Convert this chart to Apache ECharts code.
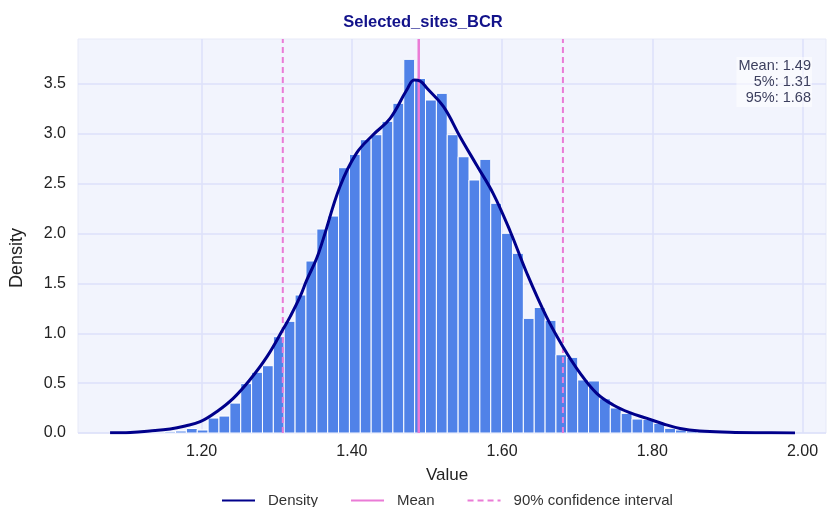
<!DOCTYPE html>
<html>
<head>
<meta charset="utf-8">
<script src="https://cdn.jsdelivr.net/npm/echarts@6/dist/echarts.min.js"></script>
<style>
html,body{margin:0;padding:0;background:#fff;}
#chart{width:827px;height:507px;}
</style>
</head>
<body>
<div id="chart"></div>
<script>
// ---- data ----
const chartTitle = 'Selected_sites_BCR';
const binStart = 1.0783;
const binWidth = 0.014474;
const histDensity = [
  0.003, 0.002, 0.004, 0.006, 0.008, 0.012, 0.02, 0.045, 0.03, 0.15,
  0.17, 0.30, 0.495, 0.609, 0.675, 0.966, 1.12, 1.384, 1.725, 2.046,
  2.176, 2.661, 2.795, 2.942, 2.992, 3.126, 3.307, 3.748, 3.557, 3.340,
  3.407, 2.992, 2.771, 2.538, 2.745, 2.304, 2.003, 1.802, 1.150, 1.26,
  1.13, 0.785, 0.759, 0.532, 0.522, 0.343, 0.251, 0.197, 0.14, 0.137,
  0.097, 0.047, 0.03, 0.02, 0.012, 0.008, 0.006, 0.004, 0.003, 0.002,
  0.001, 0.001, 0.001
];
const kdeX = [1.078, 1.105, 1.131, 1.158, 1.178, 1.198, 1.220, 1.242, 1.264, 1.287,
  1.309, 1.318, 1.331, 1.340, 1.353, 1.362, 1.384, 1.406, 1.428, 1.451,
  1.473, 1.483, 1.491, 1.500, 1.522, 1.544, 1.566, 1.588, 1.611, 1.633,
  1.659, 1.681, 1.704, 1.726, 1.748, 1.770, 1.793, 1.815, 1.837, 1.863,
  1.903, 1.943, 1.990];
const kdeY = [0.002, 0.006, 0.02, 0.04, 0.07, 0.113, 0.214, 0.348, 0.532, 0.766,
  1.05, 1.17, 1.367, 1.535, 1.75, 1.95, 2.47, 2.805, 2.989, 3.156,
  3.44, 3.54, 3.53, 3.457, 3.273, 2.972, 2.688, 2.404, 2.019, 1.602,
  1.167, 0.866, 0.599, 0.398, 0.281, 0.204, 0.147, 0.09, 0.045, 0.02,
  0.008, 0.003, 0.001];
const meanValue = 1.489;
const p5Value = 1.308;
const p95Value = 1.681;
const xTicks = [1.2, 1.4, 1.6, 1.8, 2.0];
const yTicks = [0, 0.5, 1.0, 1.5, 2.0, 2.5, 3.0, 3.5];
const xMin = 1.0353, xMax = 2.0313;
const yMin = 0, yMax = 3.952;

// ---- build ----
const histData = histDensity.map((d, i) => [binStart + i * binWidth, binStart + (i + 1) * binWidth, d]);
const kdeData = kdeX.map((x, i) => [x, kdeY[i]]);
const pink = '#ea7bd6';
const font = 'Liberation Sans, Arial, sans-serif';

const chart = echarts.init(document.getElementById('chart'), null, {renderer: 'canvas'});
chart.setOption({
  animation: false,
  backgroundColor: '#ffffff',
  title: {
    text: chartTitle,
    left: 418, top: 9, textAlign: 'center',
    textStyle: {fontFamily: font, fontSize: 16.5, fontWeight: 'bold', color: '#12128a'}
  },
  grid: {
    left: 78, top: 39, width: 748, height: 394,
    show: true, backgroundColor: '#f2f4fd', borderColor: '#e6e9f8', borderWidth: 1
  },
  legend: {
    left: 216, top: 488,
    itemWidth: 33, itemHeight: 14, itemGap: 32,
    data: ['Density', 'Mean', '90% confidence interval'],
    itemStyle: {opacity: 0},
    textStyle: {fontFamily: font, fontSize: 15, color: '#333', padding: [0, 0, 0, 8]}
  },
  xAxis: {
    type: 'value', min: xMin, max: xMax,
    name: 'Value', nameLocation: 'middle', nameGap: 34,
    nameTextStyle: {fontFamily: font, fontSize: 17, color: '#222', padding: [0, 10, 0, 0]},
    axisLine: {show: false},
    axisTick: {show: false, customValues: xTicks},
    axisLabel: {customValues: xTicks, formatter: v => v.toFixed(2), fontFamily: font, fontSize: 16, color: '#222', margin: 11},
    splitLine: {show: true, lineStyle: {color: '#dde1fa', width: 1.5}}
  },
  yAxis: {
    type: 'value', min: yMin, max: yMax,
    name: 'Density', nameLocation: 'middle', nameGap: 52, nameRotate: 90,
    nameTextStyle: {fontFamily: font, fontSize: 18, color: '#222', padding: [0, 44, 0, 0]},
    axisLine: {show: false},
    axisTick: {show: false, customValues: yTicks},
    axisLabel: {customValues: yTicks, formatter: v => v.toFixed(1), fontFamily: font, fontSize: 16, color: '#222', margin: 12},
    splitLine: {show: true, lineStyle: {color: '#dde1fa', width: 1.5}}
  },
  series: [
    {
      name: 'Histogram', type: 'custom', z: 2,
      data: histData,
      encode: {x: [0, 1], y: 2},
      renderItem: function (params, api) {
        const p0 = api.coord([api.value(0), api.value(2)]);
        const p1 = api.coord([api.value(1), 0]);
        return {
          type: 'rect',
          shape: {x: p0[0], y: p0[1], width: p1[0] - p0[0], height: p1[1] - p0[1]},
          style: {fill: '#5082e8', stroke: '#ffffff', lineWidth: 1}
        };
      }
    },
    {
      name: 'Mean', type: 'line', z: 3,
      data: [[meanValue, yMin], [meanValue, yMax]],
      symbol: 'none', showSymbol: false,
      lineStyle: {color: pink, width: 2.5},
      itemStyle: {color: pink}
    },
    {
      name: '90% confidence interval', type: 'line', z: 3,
      data: [[p5Value, yMin], [p5Value, yMax], null, [p95Value, yMin], [p95Value, yMax]],
      connectNulls: false,
      symbol: 'none', showSymbol: false,
      lineStyle: {color: pink, width: 2, type: [6, 4]},
      itemStyle: {color: pink}
    },
    {
      name: 'Density', type: 'line', z: 4,
      data: kdeData, smooth: 0.4,
      symbol: 'none', showSymbol: false,
      lineStyle: {color: '#00008b', width: 3},
      itemStyle: {color: '#00008b'}
    }
  ],
  graphic: [{
    type: 'text', z: 10,
    x: 812, y: 57,
    style: {
      text: 'Mean: ' + meanValue.toFixed(2) + '\n5%: ' + p5Value.toFixed(2) + '\n95%: ' + p95Value.toFixed(2),
      align: 'right', verticalAlign: 'top',
      font: '14.5px ' + font, lineHeight: 16,
      fill: '#3c3f5e',
      backgroundColor: 'rgba(255,255,255,0.55)',
      padding: [1, 1, 1, 2]
    }
  }]
});
</script>
</body>
</html>
